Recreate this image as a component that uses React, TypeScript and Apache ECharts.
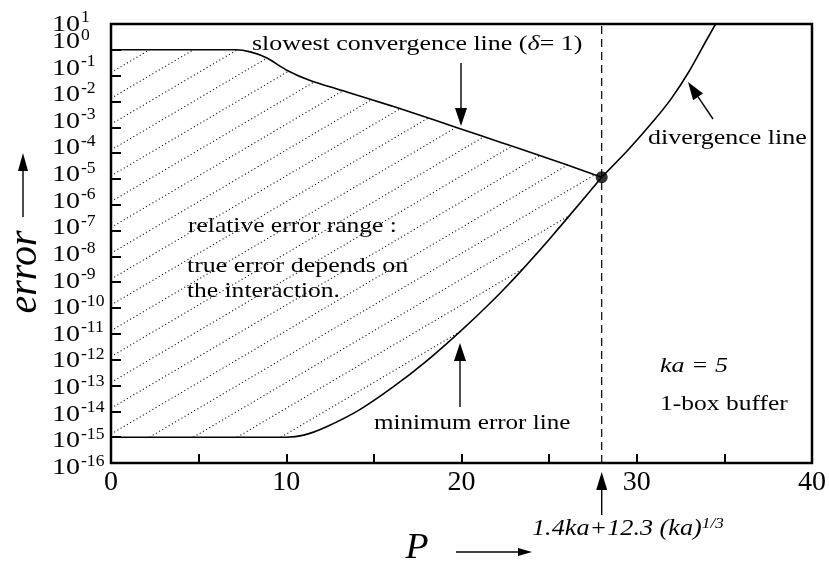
import React, { useEffect, useRef } from 'react';
import * as echarts from 'echarts';

const SERIF = '"Liberation Serif", "Times New Roman", serif';
// the serif lettering of this figure is set a little wide
const STRETCH = 1.16;

// x axis (P) and y axis (error, log scale)
const X_MIN = 0;
const X_MAX = 40;
const X_STEP = 5;
const Y_MIN = 1e-16;
const Y_MAX = 10;
const Y_EXPONENTS = [1, 0, -1, -2, -3, -4, -5, -6, -7, -8, -9, -10, -11, -12, -13, -14, -15, -16];

// critical P for ka = 5: 1.4ka + 12.3 (ka)^(1/3)
const P_CRITICAL = 28;
const ERR_CRITICAL = 1.17e-5;

// slowest convergence line (delta = 1)
const slowestP = [0, 7.1, 8.0, 8.9, 10.0, 11.4, 13.5, 16, 18.5, 21, 23.5, 26, 28];
const slowestErr = [1, 1, 0.813, 0.479, 0.166, 0.0631, 0.0229, 0.00676, 0.00186, 5.01e-4, 1.35e-4, 3.55e-5, 1.17e-5];

// minimum error line
const minimumP = [0, 10, 11, 12.3, 14.2, 16.1, 18.0, 19.9, 21.8, 23.3, 25.0, 26.9, 28];
const minimumErr = [1e-15, 1e-15, 1.2e-15, 2.54e-15, 1.17e-14, 8.79e-14, 8.79e-13, 1.19e-11, 2.01e-10, 2.31e-9, 4.53e-8, 1.5e-6, 1.17e-5];

// divergence line
const divergenceP = [28, 29.5, 31, 32, 33, 34, 34.5];
const divergenceErr = [1.17e-5, 1.32e-4, 1.91e-3, 0.0138, 0.151, 2.51, 10];

// hatching of the relative error range (decades per unit of P, offset in decades)
const HATCH_SLOPE = 0.4;
const HATCH_OFFSET = 0.12;

const zip = (xs: number[], ys: number[]) => xs.map((x, i) => [x, ys[i]]);

function logAt(ps: number[], es: number[], p: number): number {
  if (p <= ps[0]) return Math.log10(es[0]);
  for (let i = 1; i < ps.length; i++) {
    if (p <= ps[i]) {
      const t = (p - ps[i - 1]) / (ps[i] - ps[i - 1]);
      const a = Math.log10(es[i - 1]);
      const b = Math.log10(es[i]);
      return a + t * (b - a);
    }
  }
  return Math.log10(es[es.length - 1]);
}

// clip each hatch line to the band between the minimum error and slowest convergence lines
function hatchSegments() {
  const segs: number[][][] = [];
  const steps = 2800;
  for (let n = -32; n <= 2; n++) {
    const c = n + HATCH_OFFSET;
    let start: number | null = null;
    let last = 0;
    const flush = () => {
      if (start !== null && last > start) {
        segs.push([
          [start, Math.pow(10, c + HATCH_SLOPE * start)],
          [last, Math.pow(10, c + HATCH_SLOPE * last)],
        ]);
      }
      start = null;
    };
    for (let i = 0; i <= steps; i++) {
      const p = (P_CRITICAL * i) / steps;
      const L = c + HATCH_SLOPE * p;
      const inside = L >= logAt(minimumP, minimumErr, p) && L <= logAt(slowestP, slowestErr, p);
      if (inside) {
        if (start === null) start = p;
        last = p;
      } else {
        flush();
      }
    }
    flush();
  }
  return segs;
}

function arrow(tx: number, ty: number, hx: number, hy: number, len: number, hw: number) {
  const dx = hx - tx;
  const dy = hy - ty;
  const d = Math.hypot(dx, dy);
  const ux = dx / d;
  const uy = dy / d;
  const bx = hx - ux * len;
  const by = hy - uy * len;
  return {
    type: 'group',
    children: [
      { type: 'line', shape: { x1: tx, y1: ty, x2: bx, y2: by }, style: { stroke: '#000', lineWidth: 1.4 } },
      {
        type: 'polygon',
        shape: { points: [[hx, hy], [bx - uy * hw, by + ux * hw], [bx + uy * hw, by - ux * hw]] },
        style: { fill: '#000' },
      },
    ],
  };
}

function label(x: number, y: number, text: string, size: number, italic = false, stretch = STRETCH) {
  return {
    type: 'text',
    x,
    y,
    scaleX: stretch,
    style: {
      text,
      fill: '#000',
      fontFamily: SERIF,
      fontSize: size,
      fontStyle: italic ? 'italic' : 'normal',
      align: 'left',
      verticalAlign: 'middle',
    },
  };
}

export default function App() {
  const ref = useRef<HTMLDivElement>(null);

  useEffect(() => {
    if (!ref.current) return;
    const chart = echarts.init(ref.current, undefined, { renderer: 'svg' });

    const curve = { color: '#000', width: 1.6 };

    chart.setOption({
      animation: false,
      grid: {
        left: 111,
        right: 16,
        top: 24,
        bottom: 105,
        show: true,
        borderColor: '#000',
        borderWidth: 2.5,
      },
      xAxis: {
        type: 'value',
        min: X_MIN,
        max: X_MAX,
        interval: X_STEP,
        axisLine: { show: false },
        splitLine: { show: false },
        axisTick: { inside: true, length: 9, lineStyle: { color: '#000', width: 2 } },
        axisLabel: {
          margin: 3,
          color: '#000',
          fontFamily: SERIF,
          fontSize: 28,
          showMinLabel: true,
          showMaxLabel: true,
          formatter: (v: number) => (v % 10 === 0 ? String(v) : ''),
        },
      },
      yAxis: {
        type: 'log',
        logBase: 10,
        min: Y_MIN,
        max: Y_MAX,
        interval: 1,
        axisLine: { show: false },
        splitLine: { show: false },
        minorTick: { show: false },
        axisTick: { inside: true, length: 10, lineStyle: { color: '#000', width: 2 } },
        axisLabel: { show: false },
      },
      series: [
        {
          name: 'hatch',
          type: 'lines',
          coordinateSystem: 'cartesian2d',
          silent: true,
          z: 1,
          lineStyle: { color: '#111', width: 1.1, type: [1.1, 2.6], opacity: 1, curveness: 0 },
          data: hatchSegments().map((coords) => ({ coords })),
        },
        {
          name: 'slowest convergence line',
          type: 'line',
          showSymbol: false,
          smooth: 0.2,
          z: 3,
          lineStyle: curve,
          data: zip(slowestP, slowestErr),
        },
        {
          name: 'minimum error line',
          type: 'line',
          showSymbol: false,
          smooth: 0.2,
          z: 3,
          lineStyle: curve,
          data: zip(minimumP, minimumErr),
        },
        {
          name: 'divergence line',
          type: 'line',
          showSymbol: false,
          smooth: 0.2,
          z: 3,
          lineStyle: curve,
          data: zip(divergenceP, divergenceErr),
        },
        {
          name: 'critical P',
          type: 'line',
          showSymbol: false,
          z: 2,
          lineStyle: { color: '#000', width: 1.2, type: [8, 5] },
          data: [
            [P_CRITICAL, Y_MIN],
            [P_CRITICAL, Y_MAX],
          ],
        },
        {
          name: 'meeting point',
          type: 'scatter',
          symbolSize: 12,
          z: 4,
          itemStyle: { color: '#000' },
          data: [[P_CRITICAL, ERR_CRITICAL]],
        },
      ],
    });

    const toPx = (p: number, e: number) => chart.convertToPixel({ gridIndex: 0 }, [p, e]) as number[];
    const [critX, bottomY] = toPx(P_CRITICAL, Y_MIN);

    // decade labels 10^n: set just above their ticks, the top one kept inside the page
    const yLabels = Y_EXPONENTS.flatMap((n) => {
      const ty = toPx(X_MIN, Math.pow(10, n))[1];
      const cy = Math.max(ty - 9.5 - n * 0.8, 23);
      return [
        {
          type: 'text',
          x: 52,
          y: cy,
          scaleX: 1.22,
          style: { text: '10', fill: '#000', fontFamily: SERIF, fontSize: 23, align: 'left', verticalAlign: 'middle' },
        },
        {
          type: 'text',
          x: 81,
          y: cy - 6,
          scaleX: 1.1,
          style: { text: String(n), fill: '#000', fontFamily: SERIF, fontSize: 16, align: 'left', verticalAlign: 'middle' },
        },
      ];
    });

    chart.setOption({
      graphic: [
        ...yLabels,
        {
          type: 'text',
          x: 252,
          y: 43,
          scaleX: 1.18,
          style: {
            text: 'slowest convergence line ({i|δ}= 1)',
            fill: '#000',
            fontFamily: SERIF,
            fontSize: 22,
            align: 'left',
            verticalAlign: 'middle',
            rich: {
              i: { fontFamily: SERIF, fontSize: 22, fontStyle: 'italic', fill: '#000' },
            },
          },
        },
        arrow(461, 63, 461, 126, 18, 6),
        label(648, 137, 'divergence line', 22, false, 1.18),
        arrow(713, 119, 688, 82, 18, 6),
        label(188, 225, 'relative error range :', 22),
        label(187, 265, 'true error depends on', 22, false, 1.18),
        label(187, 290, 'the interaction.', 22),
        label(374, 422, 'minimum error line', 22, false, 1.14),
        arrow(460, 407, 460, 343, 18, 6),
        label(660, 365, 'ka = 5', 22, true, 1.18),
        label(660, 403, '1-box buffer', 22),
        arrow(critX, bottomY + 52, critX, bottomY + 9, 18, 5.5),
        {
          type: 'text',
          x: 532,
          y: 527,
          scaleX: 1.14,
          style: {
            text: '{m|1.4ka+12.3 (ka)}{s|1/3}',
            align: 'left',
            verticalAlign: 'middle',
            rich: {
              m: { fontFamily: SERIF, fontSize: 23, fontStyle: 'italic', fill: '#000', lineHeight: 23, verticalAlign: 'bottom' },
              s: {
                fontFamily: SERIF,
                fontSize: 15,
                fontStyle: 'italic',
                fill: '#000',
                lineHeight: 15,
                verticalAlign: 'top',
                padding: [0, 0, 14, 0],
              },
            },
          },
        },
        {
          type: 'text',
          x: 417,
          y: 546,
          scaleX: 1.08,
          style: {
            text: 'P',
            fill: '#000',
            fontFamily: SERIF,
            fontSize: 35,
            fontStyle: 'italic',
            align: 'center',
            verticalAlign: 'middle',
          },
        },
        arrow(456, 552, 532, 552, 14, 4),
        {
          type: 'text',
          x: 22,
          y: 272,
          rotation: Math.PI / 2,
          style: {
            text: 'error',
            fill: '#000',
            fontFamily: SERIF,
            fontSize: 40,
            fontStyle: 'italic',
            align: 'center',
            verticalAlign: 'middle',
          },
        },
        arrow(23, 217, 23, 153, 18, 5),
      ],
    });

    return () => chart.dispose();
  }, []);

  return <div ref={ref} style={{ position: 'fixed', left: 0, top: 0, width: 829, height: 568 }} />;
}
